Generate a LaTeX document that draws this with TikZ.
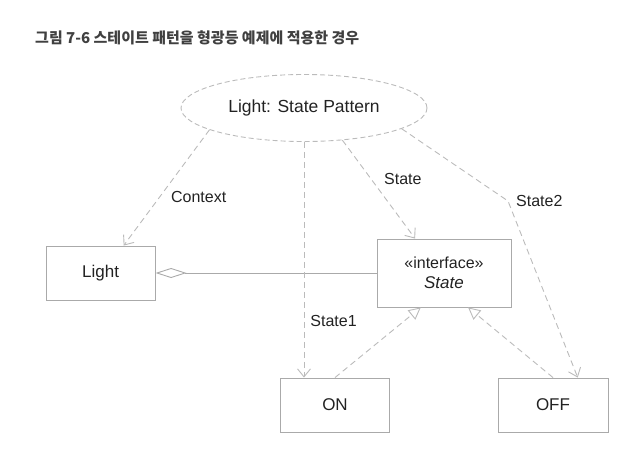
\documentclass[tikz,border=0pt]{standalone}
\usepackage{fontspec}
\setmainfont{Liberation Sans}
\newfontfamily\krfont{Noto Sans CJK KR}
\usetikzlibrary{positioning}
\usetikzlibrary{shapes.geometric}
\usetikzlibrary{arrows.meta}
\definecolor{linegray}{HTML}{BBBBBB}
\definecolor{boxgray}{HTML}{AAAAAA}
\definecolor{textgray}{HTML}{222222}

\begin{document}
\begin{tikzpicture}[
    x=1pt, y=-1pt,
    mybox/.style={draw=boxgray, line width=0.9pt, minimum width=109pt, minimum height=54pt,
      text=textgray, align=center, font=\fontsize{17}{20}\selectfont},
    myellipse/.style={ellipse, draw=linegray, line width=0.9pt, dash pattern=on 5pt off 3pt,
      minimum width=246pt, minimum height=67pt, text=textgray, font=\fontsize{17.5}{20}\selectfont},
    dep/.style={draw=linegray, line width=0.9pt, dash pattern=on 6pt off 4pt,
      -{Straight Barb[length=8pt,width=13pt]}},
    real/.style={draw=linegray, line width=0.9pt, dash pattern=on 6pt off 4pt,
      -{Triangle[open,length=12pt,width=12pt]}},
    agg/.style={draw=boxgray, line width=0.9pt, {Diamond[open,length=31pt,width=10pt]}-},
    mylabel/.style={text=textgray, inner sep=0pt, font=\fontsize{16}{19}\selectfont}
    ]
    \useasboundingbox (0,0) rectangle (630,469);

    \node[anchor=west, text=black!75, inner sep=0pt] (title) at (35,38)
      {\krfont\bfseries\fontsize{15}{17}\selectfont 그림 7-6 스테이트 패턴을 형광등 예제에 적용한 경우};

    \node[myellipse] (ell) at (304,108) {Light: State Pattern};
    \node[mybox, minimum width=134pt, minimum height=68pt] (state) at (444,273)
      {\fontsize{16}{20}\selectfont «interface»\\ \textit{State}};
    \node[mybox, left=221pt of state] (light) {Light};
    \node[mybox] (on) at (335,405) {ON};
    \node[mybox, minimum width=110pt] (off) at (553,405) {OFF};
    \coordinate (bend) at (508,201);

    \path[agg] (light) -- (state);
    \path[dep] (ell.193) -- (light.50) node[mylabel, pos=.58, right=11pt] (ctxlabel) {Context};
    \path[dep] (ell.south) -- (ell.south |- on.north) node[mylabel, pos=.76, right=6pt] (s1label) {State1};
    \path[dep] (ell.320) -- (state.130) node[mylabel, pos=.39, right=13pt] (slabel) {State};
    \path[dep] (ell.348) -- (bend) -- (off.48);
    \node[mylabel, right=8pt of bend] (s2label) {State2};
    \path[real] (on.north) -- (state.236);
    \path[real] (off.north) -- (state.305);

  \end{tikzpicture}
\end{document}
